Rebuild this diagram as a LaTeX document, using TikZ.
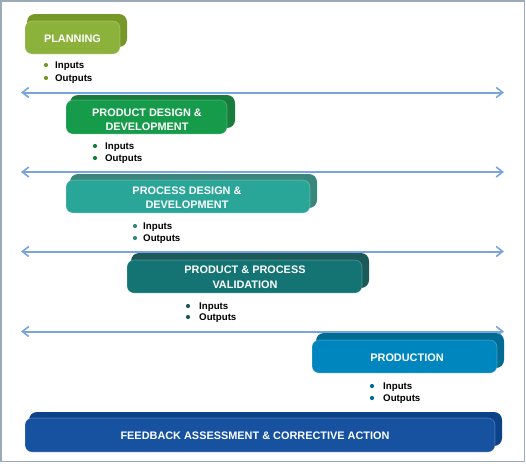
\documentclass[tikz,border=0pt]{standalone}
\usepackage{fontspec}
\setmainfont{Liberation Sans}
\usetikzlibrary{arrows.meta}
\definecolor{frameC}{RGB}{155,170,185}
\definecolor{arrC}{RGB}{120,165,222}
\definecolor{planF}{RGB}{140,178,60}\definecolor{planB}{RGB}{118,152,38}
\definecolor{pddF}{RGB}{22,155,75}\definecolor{pddB}{RGB}{24,124,60}
\definecolor{prdF}{RGB}{42,166,152}\definecolor{prdB}{RGB}{56,134,124}
\definecolor{valF}{RGB}{20,116,116}\definecolor{valB}{RGB}{28,90,90}
\definecolor{proF}{RGB}{0,134,190}\definecolor{proB}{RGB}{0,108,148}
\definecolor{fbF}{RGB}{22,82,160}\definecolor{fbB}{RGB}{12,66,136}
\tikzset{
  backbox/.style={fill=#1, rounded corners=8pt, inner sep=0pt, draw=none},
  frontbox/.style={fill=#1, rounded corners=7pt, inner sep=0pt, draw=white, draw opacity=0.25, line width=0.6pt},
  boxtext/.style={text=white, font=\fontsize{10.9}{14.5}\selectfont\bfseries, align=center, inner sep=0pt},
  itemtext/.style={font=\fontsize{9.7}{11}\selectfont\bfseries, anchor=west, inner sep=0pt},
  dot/.style={circle, fill=#1, inner sep=0pt, minimum size=4.2pt},
  flow/.style={draw=arrC, line width=2pt, {Straight Barb[length=6.5pt,width=10pt,line width=1.6pt]}-{Straight Barb[length=6.5pt,width=10pt,line width=1.6pt]}},
}
\begin{document}
\begin{tikzpicture}[x=1pt,y=-1pt]
\useasboundingbox (0,0) rectangle (526,463);
\draw[frameC, line width=1.5pt] (1,1) rectangle (524.5,461.5);

% arrows
\foreach \i/\yy in {1/92.5,2/172,3/251.5,4/331.5}{
  \coordinate (L\i) at (21,\yy);
  \coordinate (R\i) at (504,\yy);
  \draw[flow] (L\i) -- (R\i);
}

% Stage 1: Planning
\node[backbox=planB, minimum width=100pt, minimum height=33pt] (b1) at (77,30.5) {};
\node[frontbox=planF, minimum width=95pt, minimum height=33pt] (f1) at (72.5,37.5) {};
\node[boxtext] (t1) at (72.5,38.5) {PLANNING};
\node[dot=planB] (d1a) at (46,65) {};
\node[dot=planB] (d1b) at (46,78) {};
\node[itemtext] (i1a) at (55,66) {Inputs};
\node[itemtext] (i1b) at (55,79) {Outputs};

% Stage 2
\node[backbox=pddB, minimum width=165pt, minimum height=33pt] (b2) at (152.5,111.5) {};
\node[frontbox=pddF, minimum width=161pt, minimum height=34pt] (f2) at (146.5,117) {};
\node[boxtext] (t2) at (147,119.5) {PRODUCT DESIGN \&\\DEVELOPMENT};
\node[dot=pddB] (d2a) at (95,146) {};
\node[dot=pddB] (d2b) at (95,158) {};
\node[itemtext] (i2a) at (105,147) {Inputs};
\node[itemtext] (i2b) at (105,159) {Outputs};

% Stage 3
\node[backbox=prdB, minimum width=247pt, minimum height=34pt] (b3) at (193.5,191) {};
\node[frontbox=prdF, minimum width=244pt, minimum height=33pt] (f3) at (188,196.5) {};
\node[boxtext] (t3) at (187,197.5) {PROCESS DESIGN \&\\DEVELOPMENT};
\node[dot=prdB] (d3a) at (135,226) {};
\node[dot=prdB] (d3b) at (135,238) {};
\node[itemtext] (i3a) at (143,227) {Inputs};
\node[itemtext] (i3b) at (143,239) {Outputs};

% Stage 4
\node[backbox=valB, minimum width=238pt, minimum height=35pt] (b4) at (250,270.5) {};
\node[frontbox=valF, minimum width=235pt, minimum height=33pt] (f4) at (244.5,276.5) {};
\node[boxtext] (t4) at (245,277) {PRODUCT \& PROCESS\\VALIDATION};
\node[dot=valB] (d4a) at (188,306) {};
\node[dot=valB] (d4b) at (188,317) {};
\node[itemtext] (i4a) at (199,307) {Inputs};
\node[itemtext] (i4b) at (199,318) {Outputs};

% Stage 5
\node[backbox=proB, minimum width=188pt, minimum height=35pt] (b5) at (410,350.5) {};
\node[frontbox=proF, minimum width=185pt, minimum height=33pt] (f5) at (404.5,356.5) {};
\node[boxtext] (t5) at (407,357.5) {PRODUCTION};
\node[dot=proB] (d5a) at (372,386) {};
\node[dot=proB] (d5b) at (372,398) {};
\node[itemtext] (i5a) at (383,387) {Inputs};
\node[itemtext] (i5b) at (383,399) {Outputs};

% Stage 6
\node[backbox=fbB, minimum width=473pt, minimum height=34pt] (b6) at (265.5,429) {};
\node[frontbox=fbF, minimum width=470pt, minimum height=34pt] (f6) at (260,435) {};
\node[boxtext] (t6) at (255,435.5) {FEEDBACK ASSESSMENT \& CORRECTIVE ACTION};
\end{tikzpicture}
\end{document}
